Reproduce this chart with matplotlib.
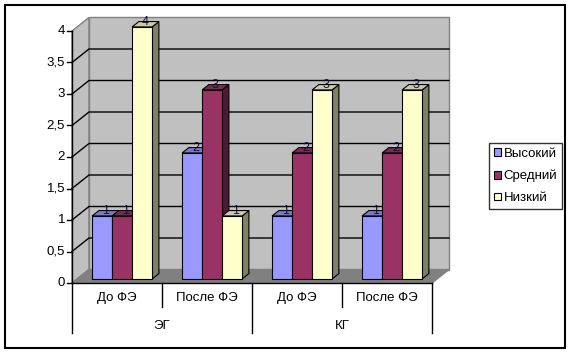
import matplotlib
matplotlib.use("Agg")
import matplotlib.pyplot as plt
from matplotlib.patches import Polygon, Rectangle, Patch

# ---- data ----
groups = ["ЭГ", "КГ"]
subcats = ["До ФЭ", "После ФЭ", "До ФЭ", "После ФЭ"]
series_names = ["Высокий", "Средний", "Низкий"]
vysokiy = [1, 2, 1, 1]
sredniy = [1, 3, 2, 2]
nizkiy = [4, 1, 3, 3]
series_values = [vysokiy, sredniy, nizkiy]
y_ticks = [0, 0.5, 1, 1.5, 2, 2.5, 3, 3.5, 4]
y_tick_labels = ["0", "0,5", "1", "1,5", "2", "2,5", "3", "3,5", "4"]

# ---- style ----
front_colors = ["#9999FF", "#993366", "#FFFFCC"]
top_colors = ["#7A7ACC", "#7A2952", "#CCCCA3"]
side_colors = ["#4D4D80", "#4D1933", "#808066"]
FONT = "Liberation Sans"
plt.rcParams["font.family"] = [FONT, "DejaVu Sans"]

W, H = 571, 354
fig = plt.figure(figsize=(W / 100, H / 100), dpi=100)
ax = fig.add_axes([0, 0, 1, 1])
ax.set_axis_off()

# pixel layout -> data limits
PX_X0, PX_CAT, PX_Y0, PX_UNIT = 72, 90, 283, 63.0
ax.set_xlim(-PX_X0 / PX_CAT, (W - PX_X0) / PX_CAT)
ax.set_ylim(-(H - PX_Y0) / PX_UNIT, PX_Y0 / PX_UNIT)

ncat = len(subcats)
ymax = y_ticks[-1]
WX = 17 / PX_CAT
WY = 13.5 / PX_UNIT
f0, fd = 0.3, 0.4
DX, DY = fd * WX, fd * WY
bw = 1 / 4.5
gap = 0.75 * bw

# walls and floor
ax.add_patch(Polygon([(0, 0), (0, ymax), (WX, ymax + WY), (WX, WY)],
                     closed=True, facecolor="#C0C0C0", edgecolor="#808080", lw=1, zorder=1))
ax.add_patch(Polygon([(WX, WY), (ncat + WX, WY), (ncat + WX, ymax + WY), (WX, ymax + WY)],
                     closed=True, facecolor="#C0C0C0", edgecolor="#808080", lw=1, zorder=1))
ax.add_patch(Polygon([(0, 0), (ncat, 0), (ncat + WX, WY), (WX, WY)],
                     closed=True, facecolor="#808080", edgecolor="#808080", lw=1, zorder=1.5))
for v in y_ticks[1:-1]:
    ax.plot([0, WX, ncat + WX], [v, v + WY, v + WY], color="black", lw=1, zorder=2)

# bars
for i in range(ncat):
    for j, vals in enumerate(series_values):
        v = vals[i]
        xl = i + gap + j * bw + f0 * WX
        yb = f0 * WY
        z = 3 + j * 0.1
        ax.add_patch(Polygon([(xl + bw, yb), (xl + bw + DX, yb + DY),
                              (xl + bw + DX, yb + v + DY), (xl + bw, yb + v)],
                             closed=True, facecolor=side_colors[j], edgecolor="black",
                             lw=0.8, zorder=z))
        ax.add_patch(Polygon([(xl, yb + v), (xl + bw, yb + v),
                              (xl + bw + DX, yb + v + DY), (xl + DX, yb + v + DY)],
                             closed=True, facecolor=top_colors[j], edgecolor="black",
                             lw=0.8, zorder=z))
        ax.bar(xl, v, width=bw, bottom=yb, align="edge", color=front_colors[j],
               edgecolor="black", lw=0.8, zorder=z + 0.01)
        ax.text(xl + bw / 2 + DX / 2, yb + v + DY, f"{v:g}", ha="center", va="center",
                fontsize=9, color="#10103a", zorder=10)

# value axis
ax.plot([0, 0], [0, ymax], color="black", lw=1, zorder=5)
for t, lab in zip(y_ticks, y_tick_labels):
    ax.plot([-5 / PX_CAT, 0], [t, t], color="black", lw=1, zorder=5)
    ax.text(-7 / PX_CAT, t, lab, ha="right", va="center", fontsize=9.5, color="black")

# category axis (multi-level)
ax.plot([0, ncat], [0, 0], color="black", lw=1, zorder=5)
lvl1 = -(307 - PX_Y0) / PX_UNIT
lvl2 = -(333 - PX_Y0) / PX_UNIT
for k in range(ncat + 1):
    ybot = lvl2 if k % 2 == 0 else lvl1
    ax.plot([k, k], [0, ybot], color="black", lw=1, zorder=5)
for i, lab in enumerate(subcats):
    ax.text(i + 0.5, -(298 - PX_Y0) / PX_UNIT, lab, ha="center", va="center",
            fontsize=9.5, color="black")
for g, lab in enumerate(groups):
    ax.text(2 * g + 1, -(326 - PX_Y0) / PX_UNIT, lab, ha="center", va="center",
            fontsize=9.5, color="black")

# legend
handles = [Patch(facecolor=c, edgecolor="black", lw=0.8) for c in front_colors]
leg = fig.legend(handles, series_names, loc="center left",
                 bbox_to_anchor=(489 / W, (H - 176) / H), fontsize=9.5,
                 frameon=True, fancybox=False, borderpad=0.35, labelspacing=0.75,
                 handlelength=0.55, handleheight=0.55, handletextpad=0.2,
                 borderaxespad=0)
leg.get_frame().set_edgecolor("black")
leg.get_frame().set_linewidth(1.0)

# outer border
fig.patches.append(Rectangle((5 / W, (H - 348) / H), 560 / W, 343 / H,
                             transform=fig.transFigure, fill=False,
                             edgecolor="black", lw=1.5))

fig.savefig("out.png", dpi=100)
